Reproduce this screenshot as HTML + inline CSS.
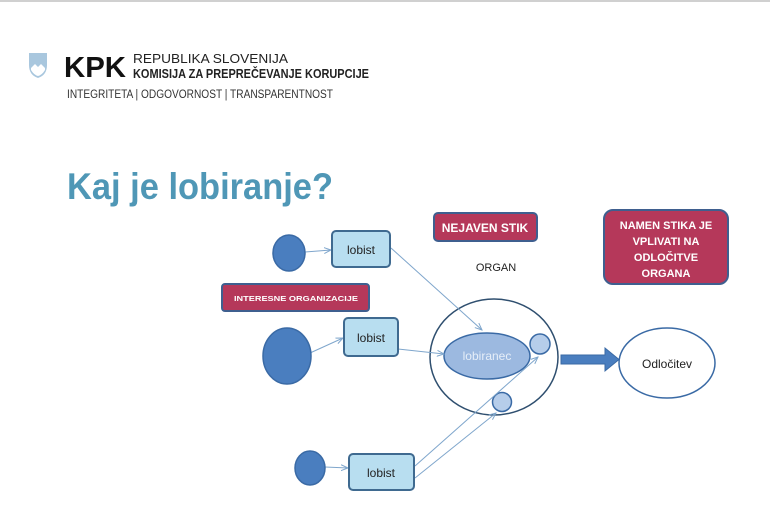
<!DOCTYPE html>
<html><head><meta charset="utf-8"><style>
body{margin:0;width:770px;height:513px;background:#fff;overflow:hidden;font-family:"Liberation Sans",sans-serif}
</style></head><body>
<svg width="770" height="513" xmlns="http://www.w3.org/2000/svg" font-family="Liberation Sans, sans-serif">
<defs><marker id="a" markerWidth="8" markerHeight="8" refX="7" refY="4" orient="auto" markerUnits="userSpaceOnUse"><path d="M0,1 L7,4 L0,7" fill="none" stroke="#7fa6cc" stroke-width="1"/></marker></defs>
<rect x="0" y="0" width="770" height="2" fill="#d0d0d0"/>
<!-- logo -->
<path d="M29,53 h18 v12 q0,10 -9,13 q-9,-3 -9,-13z" fill="#a9c7de"/>
<path d="M31,68 l4,-4 3,3 3,-3 4,4 v2 q-3,5 -7,6 q-4,-1 -7,-6z" fill="#fff"/>
<text x="64" y="77" font-size="29" font-weight="bold" fill="#111" textLength="62" lengthAdjust="spacingAndGlyphs">KPK</text>
<text x="133" y="63" font-size="13" fill="#222" textLength="155" lengthAdjust="spacingAndGlyphs">REPUBLIKA SLOVENIJA</text>
<text x="133" y="78" font-size="13" font-weight="bold" fill="#222" textLength="236" lengthAdjust="spacingAndGlyphs">KOMISIJA ZA PREPREČEVANJE KORUPCIJE</text>
<text x="67" y="98" font-size="11.5" fill="#333" textLength="266" lengthAdjust="spacingAndGlyphs">INTEGRITETA | ODGOVORNOST | TRANSPARENTNOST</text>
<text x="67" y="199" font-size="37" font-weight="bold" fill="#4f97b6" textLength="266" lengthAdjust="spacingAndGlyphs">Kaj je lobiranje?</text>
<!-- organ -->
<ellipse cx="494" cy="357" rx="64" ry="58" fill="#fff" stroke="#2f4f6f" stroke-width="1.5"/>
<ellipse cx="487" cy="356" rx="43" ry="23" fill="#9cb9e0" stroke="#3a6aa5" stroke-width="1.5"/>
<text x="487" y="360" font-size="12" fill="#e6eef8" text-anchor="middle">lobiranec</text>
<circle cx="540" cy="344" r="10" fill="#b6cdea" stroke="#3a6aa5" stroke-width="1.5"/>
<circle cx="502" cy="402" r="9.5" fill="#b6cdea" stroke="#3a6aa5" stroke-width="1.5"/>
<!-- connectors -->
<g stroke="#7fa6cc" stroke-width="1" fill="none" marker-end="url(#a)">
<line x1="305" y1="252" x2="331" y2="250"/>
<line x1="310" y1="353" x2="343" y2="338"/>
<line x1="325" y1="467" x2="348" y2="468"/>
<line x1="391" y1="248" x2="482" y2="330"/>
<line x1="398" y1="349" x2="444" y2="354"/>
<line x1="415" y1="466" x2="538" y2="357"/>
<line x1="415" y1="478" x2="496" y2="413"/>
</g>
<!-- circles -->
<g fill="#4a7ebf" stroke="#3a6aa5" stroke-width="1.5">
<ellipse cx="289" cy="253" rx="16" ry="18"/>
<ellipse cx="287" cy="356" rx="24" ry="28"/>
<ellipse cx="310" cy="468" rx="15" ry="17"/>
</g>
<g fill="#b8def0" stroke="#3f6a90" stroke-width="2">
<rect x="332" y="231" width="58" height="36" rx="4"/>
<rect x="344" y="318" width="54" height="38" rx="4"/>
<rect x="349" y="454" width="65" height="36" rx="4"/>
</g>
<g font-size="12" fill="#222" text-anchor="middle">
<text x="361" y="254">lobist</text>
<text x="371" y="342">lobist</text>
<text x="381" y="477">lobist</text>
</g>
<path d="M561,355 h44 v-7 l14,11.5 -14,11.5 v-7 h-44z" fill="#4a7ebf" stroke="#3a6aa5"/>
<ellipse cx="667" cy="363" rx="48" ry="35" fill="#fff" stroke="#3a6aa5" stroke-width="1.5"/>
<text x="667" y="368" font-size="12" fill="#222" text-anchor="middle">Odločitev</text>
<text x="496" y="271" font-size="11" fill="#222" text-anchor="middle">ORGAN</text>
<!-- red boxes -->
<g fill="#b5385a" stroke="#3f5f8f" stroke-width="2">
<rect x="434" y="213" width="103" height="28" rx="4"/>
<rect x="222" y="284" width="147" height="27" rx="3"/>
<rect x="604" y="210" width="124" height="74" rx="9"/>
</g>
<g fill="#fff" font-weight="bold" text-anchor="middle">
<text x="485" y="232" font-size="12">NEJAVEN STIK</text>
<text x="296" y="301" font-size="7" textLength="124" lengthAdjust="spacingAndGlyphs">INTERESNE ORGANIZACIJE</text>
<text x="666" y="229" font-size="11">NAMEN STIKA JE</text>
<text x="666" y="245" font-size="11">VPLIVATI NA</text>
<text x="666" y="261" font-size="11">ODLOČITVE</text>
<text x="666" y="277" font-size="11">ORGANA</text>
</g>
</svg>
</body></html>
